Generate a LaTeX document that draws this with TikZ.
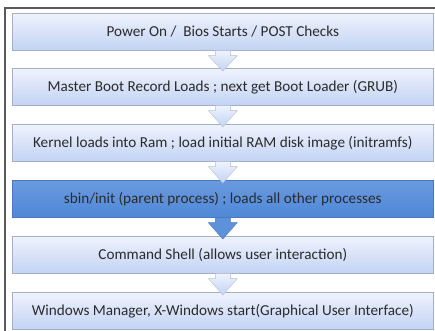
\documentclass[tikz,border=0pt]{standalone}
\usepackage{fontspec}
\setmainfont{Carlito}
\usetikzlibrary{calc}
\definecolor{lighttop}{HTML}{EEF3FD}
\definecolor{lightbot}{HTML}{C3D3F4}
\definecolor{boxedge}{HTML}{A3B0C8}
\definecolor{darkbox}{HTML}{4F88D8}
\definecolor{darkedge}{HTML}{4A78B8}
\definecolor{txt}{HTML}{2B2B2B}
\definecolor{framec}{HTML}{5A5A5A}
\tikzset{
  stepbox/.style={draw=boxedge, line width=0.6pt, top color=lighttop, bottom color=lightbot,
    minimum width=421pt, minimum height=37pt, inner sep=0pt, anchor=north west,
    font=\fontsize{15.2}{17}\selectfont, text=txt},
  keybox/.style={stepbox, draw=darkedge, top color=darkbox!85!white, bottom color=darkbox},
  lightarrow/.style={draw=boxedge!80!white, line width=0.4pt, top color=lighttop, bottom color=lightbot},
  darkarrow/.style={draw=darkedge, line width=0.4pt, fill=darkbox!92!white},
}
\newcommand{\blockarrow}[3]{%
  \path (#1.south) coordinate (s) (#2.north) coordinate (t);
  \path[#3] ($(s)+(-7.5pt,0)$) -- ($(s)+(7.5pt,0)$) -- ($(s)+(7.5pt,-5pt)$)
    -- ($(s)+(14.5pt,-5pt)$) -- ($(t)+(0,-3pt)$) -- ($(s)+(-14.5pt,-5pt)$)
    -- ($(s)+(-7.5pt,-5pt)$) -- cycle;}
\begin{document}
\begin{tikzpicture}[x=1pt,y=1pt]
\useasboundingbox (0,0) rectangle (435,-330);
\fill[white] (0,0) rectangle (435,-330);
\draw[framec, line width=1.4pt] (5,-335) -- (5,-8) -- (440,-8);
\node[stepbox] (b1) at (12,-13) {Power On /\ \ Bios Starts / POST Checks};
\node[stepbox] (b2) at (12,-68) {Master Boot Record Loads ; next get Boot Loader (GRUB)};
\node[stepbox] (b3) at (12,-124) {Kernel loads into Ram ; load initial RAM disk image (initramfs)};
\node[keybox] (b4) at (12,-180) {sbin/init (parent process) ; loads all other processes};
\node[stepbox] (b5) at (12,-236) {Command Shell (allows user interaction)};
\node[stepbox] (b6) at (12,-292) {Windows Manager, X-Windows start(Graphical User Interface)};
\blockarrow{b1}{b2}{lightarrow}
\blockarrow{b2}{b3}{lightarrow}
\blockarrow{b3}{b4}{lightarrow}
\blockarrow{b4}{b5}{darkarrow}
\blockarrow{b5}{b6}{lightarrow}
\end{tikzpicture}
\end{document}
